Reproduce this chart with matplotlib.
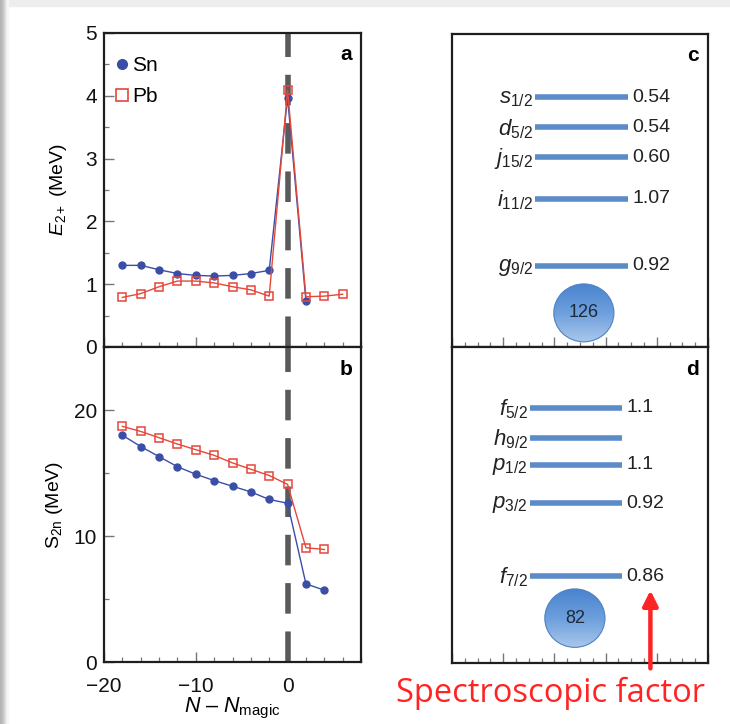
import numpy as np
import matplotlib
matplotlib.use("Agg")
from matplotlib import pyplot as plt
from matplotlib.lines import Line2D
from matplotlib.patches import Ellipse, Rectangle
from matplotlib.ticker import MultipleLocator, NullFormatter

plt.rcParams["font.family"] = "Liberation Sans"
plt.rcParams["mathtext.fontset"] = "custom"
plt.rcParams["mathtext.rm"] = "Liberation Sans"
plt.rcParams["mathtext.it"] = "Liberation Sans:italic"
plt.rcParams["mathtext.bf"] = "Liberation Sans:bold"

# Data ─────────────────────────────────────────────────────────────────────────
# panel a : E(2+) in MeV vs N - N_magic
sn_n = [-18, -16, -14, -12, -10, -8, -6, -4, -2, 0, 2]
sn_e2 = [1.30, 1.30, 1.23, 1.17, 1.14, 1.13, 1.14, 1.17, 1.22, 3.97, 0.73]
pb_n = [-18, -16, -14, -12, -10, -8, -6, -4, -2, 0, 2, 4, 6]
pb_e2 = [0.79, 0.85, 0.96, 1.05, 1.05, 1.02, 0.96, 0.91, 0.81, 4.09, 0.80, 0.81, 0.84]

# panel b : S(2n) in MeV
sn_n_s2n = [-18, -16, -14, -12, -10, -8, -6, -4, -2, 0, 2, 4]
sn_s2n = [18.0, 17.1, 16.3, 15.5, 14.9, 14.4, 13.95, 13.5, 12.9, 12.6, 6.2, 5.7]
pb_n_s2n = [-18, -16, -14, -12, -10, -8, -6, -4, -2, 0, 2, 4]
pb_s2n = [18.7, 18.3, 17.8, 17.3, 16.85, 16.4, 15.8, 15.3, 14.8, 14.1, 9.07, 8.93]

# panel c : orbitals above N = 126 (schematic level heights) and spectroscopic factors
c_orbitals = [r"$s_{\mathrm{1/2}}$", r"$d_{\mathrm{5/2}}$", r"$j_{\mathrm{15/2}}$",
              r"$i_{\mathrm{11/2}}$", r"$g_{\mathrm{9/2}}$"]
c_levels = [7.98, 7.02, 6.06, 4.74, 2.60]
c_factors = ["0.54", "0.54", "0.60", "1.07", "0.92"]
c_magic = "126"

# panel d : orbitals above N = 82
d_orbitals = [r"$f_{\mathrm{5/2}}$", r"$h_{\mathrm{9/2}}$", r"$p_{\mathrm{1/2}}$",
              r"$p_{\mathrm{3/2}}$", r"$f_{\mathrm{7/2}}$"]
d_levels = [8.07, 7.12, 6.27, 5.06, 2.75]
d_factors = ["1.1", "", "1.1", "0.92", "0.86"]
d_magic = "82"

SN_COL = "#3b4ea6"
PB_COL = "#e5473b"
LEVEL_COL = "#5b8cc8"
SPINE_COL = "#1e1e1e"

# Figure ───────────────────────────────────────────────────────────────────────
W, H = 730, 724
fig = plt.figure(figsize=(W / 100, H / 100), dpi=100)

# slide-screenshot frame
fig.patches.append(Rectangle((0, 1 - 6 / H), 1, 6 / H, transform=fig.transFigure,
                             color="#ededed", zorder=0))
for i, g in enumerate(["#b3b3b3", "#b8b8b8", "#bebebe", "#c6c6c6", "#d2d2d2",
                       "#dfdfdf", "#ececec", "#f6f6f6"]):
    fig.patches.append(Rectangle((i / W, 0), 1 / W, 1, transform=fig.transFigure,
                                 color=g, zorder=0))


def px_axes(x0, y0, x1, y1):
    return fig.add_axes([x0 / W, 1 - y1 / H, (x1 - x0) / W, (y1 - y0) / H])


ax_a = px_axes(104, 33, 361, 347)
ax_b = px_axes(104, 347, 361, 662)
ax_c = px_axes(452, 34, 708, 347)
ax_d = px_axes(452, 347, 708, 663)

for ax in (ax_a, ax_b, ax_c, ax_d):
    for s in ax.spines.values():
        s.set_linewidth(1.6)
        s.set_color(SPINE_COL)
    ax.tick_params(which="both", direction="in", top=False, right=False,
                   colors="#777777", labelcolor="#111111", labelsize=15, pad=5)
    ax.tick_params(which="major", length=7, width=1.0)
    ax.tick_params(which="minor", length=3.5, width=0.9)

# left panels
for ax in (ax_a, ax_b):
    ax.set_xlim(-20, 8)
    ax.xaxis.set_major_locator(MultipleLocator(10))
    ax.xaxis.set_minor_locator(MultipleLocator(2))
    ax.axvline(0, color="#5a5a5a", lw=4, dashes=(5.5, 3.2), zorder=2.5)

ax_a.set_ylim(0, 5)
ax_a.yaxis.set_major_locator(MultipleLocator(1))
ax_a.yaxis.set_minor_locator(MultipleLocator(0.5))
ax_a.xaxis.set_major_formatter(NullFormatter())
ax_a.plot(sn_n, sn_e2, "-o", color=SN_COL, lw=1.0, ms=5, zorder=3)
ax_a.plot(pb_n, pb_e2, "-s", color=PB_COL, lw=1.0, ms=6, mfc="none", mew=1.1, zorder=4)
ax_a.set_ylabel(r"$E_{\mathrm{2+}}$ (MeV)", fontsize=14, labelpad=12)
ax_a.text(0.965, 0.93, "a", transform=ax_a.transAxes, ha="right", va="center",
          fontsize=15, fontweight="bold")
handles = [Line2D([], [], ls="none", marker="o", color=SN_COL, ms=7),
           Line2D([], [], ls="none", marker="s", color=PB_COL, mfc="none", mew=1.2, ms=8)]
ax_a.legend(handles, ["Sn", "Pb"], loc="upper left", frameon=False, fontsize=15,
            handlelength=0.5, handletextpad=0.25, labelspacing=0.55,
            borderaxespad=0.2, bbox_to_anchor=(0.0, 0.965))

ax_b.set_ylim(0, 25)
ax_b.yaxis.set_major_locator(MultipleLocator(10))
ax_b.yaxis.set_minor_locator(MultipleLocator(5))
ax_b.set_yticks([0, 10, 20])
ax_b.tick_params(axis="x", which="both", pad=11)
ax_b.plot(sn_n_s2n, sn_s2n, "-o", color=SN_COL, lw=1.0, ms=5, zorder=3)
ax_b.plot(pb_n_s2n, pb_s2n, "-s", color=PB_COL, lw=1.0, ms=6, mfc="none", mew=1.1, zorder=4)
ax_b.set_ylabel(r"S$_{\mathrm{2n}}$ (MeV)", fontsize=14, labelpad=6)
ax_b.set_xlabel(r"$N$ – $N_{\mathrm{magic}}$", fontsize=15.5, labelpad=0)
ax_b.text(0.965, 0.93, "b", transform=ax_b.transAxes, ha="right", va="center",
          fontsize=15, fontweight="bold")


# right panels
def level_panel(ax, orbitals, levels, factors, magic, magic_y, x0, x1, label, circ_x):
    ax.set_xlim(0, 20)
    ax.set_ylim(0, 10)
    ax.xaxis.set_major_locator(MultipleLocator(4))
    ax.xaxis.set_minor_locator(MultipleLocator(1))
    ax.xaxis.set_major_formatter(NullFormatter())
    ax.set_yticks([])
    ax.hlines(levels, x0, x1, color=LEVEL_COL, lw=4)
    for orb, lev, fac in zip(orbitals, levels, factors):
        ax.text(x0 - 0.15, lev - 0.05, orb, ha="right", va="center", fontsize=16,
                color="#222222")
        ax.text(x1 + 0.35, lev, fac, ha="left", va="center", fontsize=14,
                color="#222222")
    # gradient ball with the magic number
    ell = Ellipse((circ_x, magic_y), 4.7, 1.85, facecolor="none",
                  edgecolor="#4f82c2", lw=0.8, zorder=3)
    ax.add_patch(ell)
    grad = np.linspace(0, 1, 64).reshape(-1, 1)
    im = ax.imshow(grad, cmap=matplotlib.colors.LinearSegmentedColormap.from_list(
        "ball", ["#a9c7ec", "#6d9fdc", "#4a84cf"]), aspect="auto",
        extent=(circ_x - 2.35, circ_x + 2.35, magic_y + 0.93, magic_y - 0.93),
        zorder=2)
    im.set_clip_path(ell)
    ax.text(circ_x, magic_y, magic, ha="center", va="center", fontsize=13,
            color="#1e2a3a", zorder=4)
    ax.text(0.965, 0.93, label, transform=ax.transAxes, ha="right", va="center",
            fontsize=15, fontweight="bold")
    ax.set_xlim(0, 20)
    ax.set_ylim(0, 10)


level_panel(ax_c, c_orbitals, c_levels, c_factors, c_magic, 1.09, 6.5, 13.75, "c", 10.3)
level_panel(ax_d, d_orbitals, d_levels, d_factors, d_magic, 1.42, 6.1, 13.3, "d", 9.6)

# annotation arrow and caption
ax_d.annotate("", xy=(15.5, 2.3), xytext=(15.5, -0.17), annotation_clip=False,
              arrowprops=dict(arrowstyle="-|>,head_width=0.45,head_length=0.9",
                              color="#ff2424", lw=3.2, shrinkA=0, shrinkB=0))
fig.text(551 / W, 1 - 693 / H, "Spectroscopic factor", ha="center", va="center",
         fontsize=23.5, color="#ff2424", family="Open Sans")

fig.savefig("out.png", dpi=100)
